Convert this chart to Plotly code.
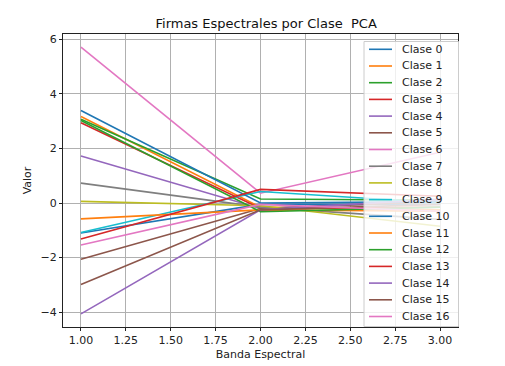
import plotly.graph_objects as go

bands = [1, 2, 3]
class_names = [f"Clase {i}" for i in range(17)]
class_values = [
    [-1.10, -0.05, -0.05],   # Clase 0
    [3.17, -0.15, -0.25],    # Clase 1
    [3.07, 0.15, 0.10],      # Clase 2
    [2.94, -0.20, -0.15],    # Clase 3
    [1.72, -0.20, 0.10],     # Clase 4
    [-2.06, -0.20, 0.05],    # Clase 5
    [5.71, 0.36, 1.86],      # Clase 6
    [0.73, -0.15, -0.60],    # Clase 7
    [0.06, -0.10, -0.85],    # Clase 8
    [-1.08, 0.42, 0.00],     # Clase 9
    [3.39, 0.00, 0.05],      # Clase 10
    [-0.58, -0.25, -0.30],   # Clase 11
    [3.02, -0.32, -0.15],    # Clase 12
    [-1.32, 0.50, 0.25],     # Clase 13
    [-4.06, -0.25, 0.15],    # Clase 14
    [-2.98, -0.25, -0.05],   # Clase 15
    [-1.54, -0.05, -0.30],   # Clase 16
]
palette = ["#1f77b4", "#ff7f0e", "#2ca02c", "#d62728", "#9467bd",
           "#8c564b", "#e377c2", "#7f7f7f", "#bcbd22", "#17becf"]
x_ticks = [1.0, 1.25, 1.5, 1.75, 2.0, 2.25, 2.5, 2.75, 3.0]
y_ticks = [-4, -2, 0, 2, 4, 6]

FONT = "DejaVu Sans"
W, H = 505, 366
ML, MR, MT, MB = 63, 47, 34, 39
PW, PH = W - ML - MR, H - MT - MB


def px_x(p):
    return (p - ML) / PW


def px_y(p):
    return 1 - (p - MT) / PH


fig = go.Figure()
for i, (name, vals) in enumerate(zip(class_names, class_values)):
    fig.add_trace(go.Scatter(
        x=bands, y=vals, mode="lines", name=name,
        line=dict(color=palette[i % 10], width=1.6),
    ))

# matplotlib-style legend box (drawn as layout decoration)
shapes = [dict(type="rect", xref="paper", yref="paper",
               x0=px_x(364), x1=px_x(458.5), y0=px_y(326.5), y1=px_y(41.5),
               fillcolor="rgba(255,255,255,0.8)", line=dict(color="#cccccc", width=1),
               layer="above")]
annotations = []
for i, name in enumerate(class_names):
    cy = 49.3 + 16.7 * i
    shapes.append(dict(type="line", xref="paper", yref="paper",
                       x0=px_x(369), x1=px_x(392), y0=px_y(cy), y1=px_y(cy),
                       line=dict(color=palette[i % 10], width=1.6), layer="above"))
    annotations.append(dict(text=name, xref="paper", yref="paper",
                            x=px_x(400), y=px_y(cy), xanchor="left", yanchor="middle",
                            showarrow=False,
                            font=dict(family=FONT, size=11, color="#222222")))

fig.update_layout(
    width=W, height=H,
    margin=dict(l=ML, r=MR, t=MT, b=MB, autoexpand=False),
    paper_bgcolor="white", plot_bgcolor="white",
    font=dict(family=FONT, size=11, color="#222222"),
    title=dict(text="Firmas Espectrales por Clase \u00a0PCA", x=0.527, xref="container",
               xanchor="center", y=1 - 23 / H, yref="container", yanchor="middle",
               font=dict(family=FONT, size=13, color="#111111")),
    showlegend=False,
    shapes=shapes,
    annotations=annotations,
)
fig.update_xaxes(
    range=[0.9, 3.1], tickvals=x_ticks, tickformat=".2f", automargin=False,
    showgrid=True, gridcolor="#b0b0b0", gridwidth=0.8,
    showline=True, linecolor="#222222", linewidth=1, mirror=True,
    ticks="outside", ticklen=3, tickcolor="#222222", zeroline=False,
    title=dict(text="Banda Espectral", standoff=4, font=dict(family=FONT, size=11)),
)
fig.update_yaxes(
    range=[-4.54, 6.19], tickvals=y_ticks, automargin=False,
    showgrid=True, gridcolor="#b0b0b0", gridwidth=0.8,
    showline=True, linecolor="#222222", linewidth=1, mirror=True,
    ticks="outside", ticklen=3, tickcolor="#222222", zeroline=False,
    title=dict(text="Valor", standoff=6, font=dict(family=FONT, size=11)),
)

fig.write_html("out.html", config={"displayModeBar": False},
               post_script="document.body.style.margin='0';document.body.style.overflow='hidden';")
